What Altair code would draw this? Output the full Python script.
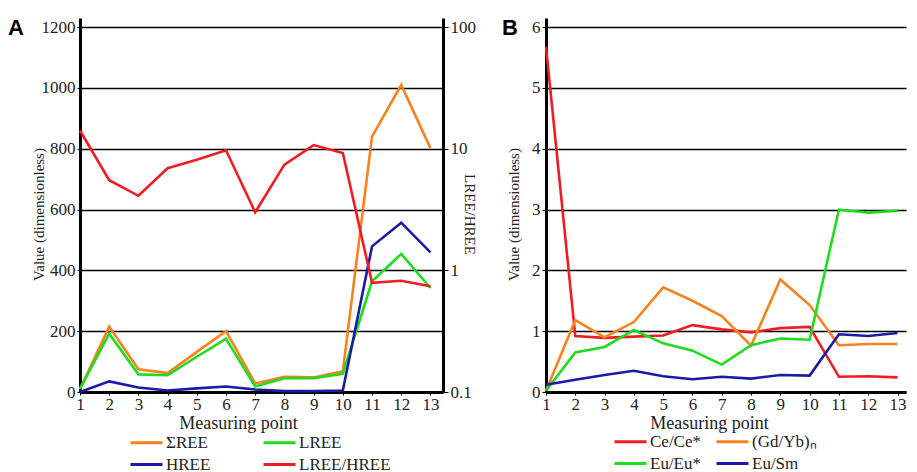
import altair as alt
import pandas as pd

points = list(range(1, 14))

# Panel A
sum_ree = [10, 215, 75, 62, 132, 200, 28, 50, 48, 68, 840, 1010, 802]
lree = [10, 192, 58, 55, 116, 175, 18, 45, 45, 60, 364, 454, 342]
hree = [0, 35, 15, 5, 12, 18, 8, 3, 3, 5, 479, 557, 459]
lree_hree = [14.1, 5.5, 4.1, 6.9, 8.1, 9.7, 3.0, 7.4, 10.7, 9.2, 0.79, 0.82, 0.74]

# Panel B
ce = [5.68, 0.92, 0.89, 0.91, 0.93, 1.10, 1.03, 0.98, 1.05, 1.07, 0.25, 0.26, 0.24]
gdyb = [0.02, 1.18, 0.90, 1.15, 1.72, 1.50, 1.25, 0.76, 1.85, 1.43, 0.77, 0.79, 0.79]
eu = [0.02, 0.65, 0.74, 1.02, 0.80, 0.68, 0.45, 0.77, 0.88, 0.86, 3.00, 2.95, 2.98]
eusm = [0.12, 0.20, 0.28, 0.35, 0.26, 0.21, 0.25, 0.22, 0.28, 0.27, 0.95, 0.92, 0.97]

# legend order (filled column by column)
namesA = ["ΣREE", "HREE", "LREE", "LREE/HREE"]
colorsA = ["#F7821E", "#1A1AA8", "#1EDC1E", "#EE1C24"]
namesB = ["Ce/Ce*", "Eu/Eu*", "(Gd/Yb)ₙ", "Eu/Sm"]
colorsB = ["#EE1C24", "#1EDC1E", "#F7821E", "#1A1AA8"]

SERIF = "Liberation Serif"

dfA_left = pd.DataFrame({
    "point": points * 3,
    "value": sum_ree + lree + hree,
    "series": ["ΣREE"] * 13 + ["LREE"] * 13 + ["HREE"] * 13,
    "order": [0] * 13 + [1] * 13 + [2] * 13,
})
dfA_right = pd.DataFrame({"point": points, "value": lree_hree, "series": ["LREE/HREE"] * 13})
dfB = pd.DataFrame({
    "point": points * 4,
    "value": ce + gdyb + eu + eusm,
    "series": ["Ce/Ce*"] * 13 + ["(Gd/Yb)ₙ"] * 13 + ["Eu/Eu*"] * 13 + ["Eu/Sm"] * 13,
})

H = 374
WA = 363
WB = 360

def x_enc(maxv, tx):
    return alt.X("point:Q",
                 scale=alt.Scale(domain=[1, maxv], nice=False, zero=False),
                 axis=alt.Axis(values=points, title="Measuring point", grid=False,
                               domainWidth=3, tickSize=3, labelFontSize=17,
                               titleFontSize=18, labelPadding=1, titlePadding=2,
                               titleX=tx, labelFlush=False))

def legend(x, y, colpad, rowpad):
    return alt.Legend(title=None, orient="none", legendX=x, legendY=y, columns=2,
                      symbolType="M-1.6,0H1.6", symbolSize=400, symbolStrokeWidth=3,
                      labelFontSize=17, labelOffset=8, columnPadding=colpad,
                      rowPadding=rowpad)

colorA = alt.Color("series:N", scale=alt.Scale(domain=namesA, range=colorsA),
                   legend=legend(55, 413, 46, 2))

leftA = alt.Chart(dfA_left).mark_line(strokeWidth=2.6).encode(
    x=x_enc(13.43, 158),
    y=alt.Y("value:Q", scale=alt.Scale(domain=[0, 1230], nice=False),
            axis=alt.Axis(values=[0, 200, 400, 600, 800, 1000, 1200], format="d",
                          title="Value (dimensionless)", grid=True, gridColor="black",
                          gridWidth=1.4, gridOpacity=1, domainWidth=3, tickSize=3,
                          labelFontSize=17, titleFontSize=15, titleX=-42,
                          titleY=H / 2 + 9, titleBaseline="middle")),
    color=colorA,
    order="order:Q",
)

rightA = alt.Chart(dfA_right).mark_line(strokeWidth=2.6).encode(
    x=x_enc(13.43, 158),
    y=alt.Y("value:Q", scale=alt.Scale(type="log", domain=[0.1, 118.6], nice=False),
            axis=alt.Axis(orient="right", values=[0.1, 1, 10, 100], format="~g",
                          title="LREE/HREE", grid=False, domainWidth=3, tickSize=5,
                          labelFontSize=17, titleFontSize=15, titleX=26,
                          titleY=H / 2 + 9, titleBaseline="middle")),
    color=colorA,
)

labA = alt.Chart(pd.DataFrame({"lab": ["A"]})).mark_text(
    font="Liberation Sans", fontWeight="bold", fontSize=22, align="left", baseline="top",
    color="black").encode(text="lab:N", x=alt.value(-72), y=alt.value(0))

panelA = alt.layer(leftA, rightA, labA).resolve_scale(y="independent").properties(
    width=WA, height=H)

colorB = alt.Color("series:N", scale=alt.Scale(domain=namesB, range=colorsB),
                   legend=legend(73, 412, 9, 2))

lineB = alt.Chart(dfB).mark_line(strokeWidth=2.6).encode(
    x=x_enc(13.29, 163),
    y=alt.Y("value:Q", scale=alt.Scale(domain=[0, 6.15], nice=False),
            axis=alt.Axis(values=[0, 1, 2, 3, 4, 5, 6], title="Value (dimensionless)",
                          grid=True, gridColor="black", gridWidth=1.4, gridOpacity=1,
                          domainWidth=3, tickSize=4, labelFontSize=17, titleFontSize=15,
                          titleX=-33, titleY=H / 2 + 9, titleBaseline="middle")),
    color=colorB,
)

labB = alt.Chart(pd.DataFrame({"lab": ["B"]})).mark_text(
    font="Liberation Sans", fontWeight="bold", fontSize=22, align="left", baseline="top",
    color="black").encode(text="lab:N", x=alt.value(-44), y=alt.value(0))

panelB = alt.layer(lineB, labB).properties(width=WB, height=H)

chart = alt.hconcat(panelA, panelB, spacing=26).resolve_scale(
    color="independent", x="independent", y="independent"
).properties(
    padding={"left": 0, "top": 9, "right": 0, "bottom": 0},
    background="white",
).configure_view(stroke=None).configure_axis(
    labelFont=SERIF, titleFont=SERIF, labelColor="#222", titleColor="#222",
    titleFontWeight="normal", domainColor="black", tickColor="black"
).configure_legend(labelFont=SERIF, labelColor="#222")

chart.save("out.html", embed_options={"renderer": "svg", "actions": False})
